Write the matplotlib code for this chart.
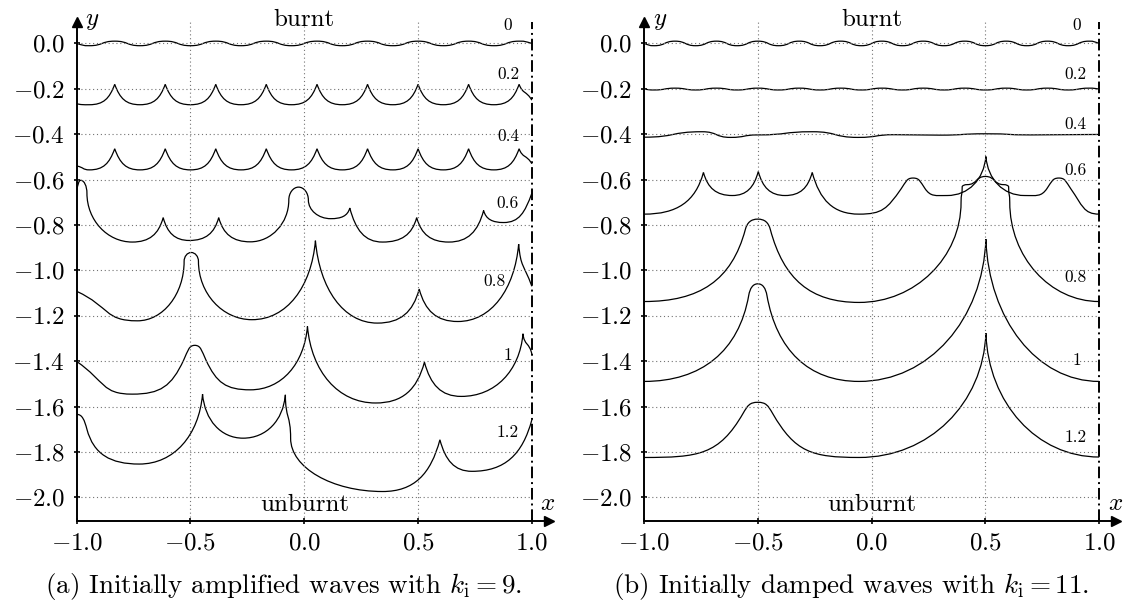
import numpy as np
import matplotlib
matplotlib.use("Agg")
import matplotlib.pyplot as plt
from matplotlib.path import Path
from matplotlib.patches import PathPatch

plt.rcParams['font.family'] = 'cmr10'
plt.rcParams['mathtext.fontset'] = 'cm'
plt.rcParams['axes.formatter.use_mathtext'] = True

# Axis ticks / labels
xticks = [-1.0, -0.5, 0.0, 0.5, 1.0]
xticklabels = ['$-1.0$', '$-0.5$', '$0.0$', '$0.5$', '$1.0$']
yticks = [0.0, -0.2, -0.4, -0.6, -0.8, -1.0, -1.2, -1.4, -1.6, -1.8, -2.0]
yticklabels = ['$0.0$', '$-0.2$', '$-0.4$', '$-0.6$', '$-0.8$', '$-1.0$',
               '$-1.2$', '$-1.4$', '$-1.6$', '$-1.8$', '$-2.0$']

# Flame fronts: node x, node y and tangent angle (deg)
# a tuple (in, out) marks a cusp where the curve changes direction
C70 = (70, -70)
C75 = (75, -75)
C85 = (85, -85)

# panel (a), k_i = 9
a00_x = [-1.0, -0.944, -0.833, -0.722, -0.611, -0.5, -0.389, -0.278, -0.167, -0.056,
         0.056, 0.167, 0.278, 0.389, 0.5, 0.611, 0.722, 0.833, 0.944, 1.0]
a00_y = [0.0, -0.010, 0.010, -0.010, 0.010, -0.010, 0.010, -0.010, 0.010, -0.010,
         0.010, -0.010, 0.010, -0.010, 0.010, -0.010, 0.010, -0.010, 0.010, 0.0]
a00_t = [-16, 0, 0, 0, 0, 0, 0, 0, 0, 0, 0, 0, 0, 0, 0, 0, 0, 0, 0, -16]

a02_x = a00_x
a02_y = [-0.266, -0.270, -0.180, -0.270, -0.180, -0.270, -0.180, -0.270, -0.180, -0.270,
         -0.180, -0.270, -0.180, -0.270, -0.180, -0.270, -0.180, -0.270, -0.180, -0.250]
a02_t = [-10, 0, C70, 0, C70, 0, C70, 0, C70, 0, C70, 0, C70, 0, C70, 0, C70, 0, C70, -60]

a04_x = a00_x
a04_y = [-0.540, -0.557, -0.464, -0.557, -0.464, -0.557, -0.464, -0.557, -0.464, -0.557,
         -0.464, -0.557, -0.464, -0.557, -0.464, -0.557, -0.464, -0.557, -0.464, -0.530]
a04_t = a02_t

a06_x = [-1.0, -0.982, -0.955, -0.756, -0.620, -0.505, -0.376, -0.237, -0.068, -0.025,
         0.018, 0.116, 0.200, 0.344, 0.494, 0.635, 0.788, 0.876, 1.0]
a06_y = [-0.645, -0.603, -0.660, -0.875, -0.767, -0.868, -0.767, -0.874, -0.690, -0.633,
         -0.690, -0.772, -0.725, -0.875, -0.767, -0.875, -0.736, -0.789, -0.660]
a06_t = [75, 0, 90, 0, C75, 0, C75, 0, 90, 0, 90, 0, C75, 0, C75, 0, C75, 0, 70]

a08_x = [-1.0, -0.733, -0.528, -0.497, -0.465, -0.230, 0.049, 0.321, 0.505, 0.675, 0.942, 1.0]
a08_y = [-1.092, -1.222, -0.960, -0.921, -0.960, -1.217, -0.869, -1.232, -1.082, -1.225,
         -0.884, -1.070]
a08_t = [-25, 0, 90, 0, 90, 0, C85, 0, C75, 0, C85, -70]

a10_x = [-1.0, -0.756, -0.530, -0.481, -0.432, -0.237, 0.014, 0.313, 0.528, 0.690, 0.961, 1.0]
a10_y = [-1.401, -1.545, -1.395, -1.330, -1.395, -1.526, -1.247, -1.584, -1.404, -1.555,
         -1.279, -1.370]
a10_t = [-35, 0, 65, 0, -65, 0, C85, 0, C75, 0, C85, -80]

a12_x = [-1.0, -0.955, -0.725, -0.447, -0.269, -0.083, -0.060, 0.344, 0.596, 0.737, 1.0]
a12_y = [-1.634, -1.700, -1.853, -1.545, -1.739, -1.548, -1.740, -1.974, -1.746, -1.885, -1.658]
a12_t = [0, -75, 0, C85, 0, (85, -90), 90, 0, C75, 0, 75]

# panel (b), k_i = 11
b00_x = [-1.0, -0.955, -0.864, -0.773, -0.682, -0.591, -0.5, -0.409, -0.318, -0.227, -0.136,
         -0.045, 0.045, 0.136, 0.227, 0.318, 0.409, 0.5, 0.591, 0.682, 0.773, 0.864, 0.955, 1.0]
b00_y = [0.0, -0.010, 0.010, -0.010, 0.010, -0.010, 0.010, -0.010, 0.010, -0.010, 0.010,
         -0.010, 0.010, -0.010, 0.010, -0.010, 0.010, -0.010, 0.010, -0.010, 0.010, -0.010,
         0.010, 0.0]
b00_t = [-18] + [0] * 22 + [-18]

b02_x = b00_x
b02_y = [-0.201, -0.205, -0.197, -0.205, -0.197, -0.205, -0.197, -0.205, -0.197, -0.205,
         -0.197, -0.205, -0.197, -0.205, -0.197, -0.205, -0.197, -0.205, -0.197, -0.205,
         -0.197, -0.205, -0.197, -0.201]
b02_t = [-8] + [0] * 22 + [-8]

b04_x = [-1.0, -0.745, -0.620, -0.500, -0.260, -0.060, 0.100, 0.300, 0.500, 0.700, 1.0]
b04_y = [-0.413, -0.389, -0.414, -0.403, -0.389, -0.414, -0.402, -0.404, -0.398, -0.403, -0.401]
b04_t = [0, 0, 0, 0, 0, 0, 0, 0, 0, 0, 0]

b06_x = [-1.0, -0.739, -0.612, -0.498, -0.380, -0.261, -0.055, 0.130, 0.182, 0.235, 0.332,
         0.502, 0.672, 0.770, 0.823, 0.875, 1.0]
b06_y = [-0.752, -0.568, -0.670, -0.564, -0.670, -0.568, -0.752, -0.640, -0.593, -0.640,
         -0.670, -0.498, -0.670, -0.640, -0.593, -0.640, -0.752]
b06_t = [0, C75, 0, C75, 0, C75, 0, 55, 0, -55, 0, C85, 0, 55, 0, -55, 0]

b08_x = [-1.0, -0.555, -0.500, -0.445, -0.055, 0.393, 0.398, 0.420, 0.500, 0.580, 0.602,
         0.607, 1.0]
b08_y = [-1.137, -0.820, -0.774, -0.820, -1.141, -0.700, -0.632, -0.622, -0.586, -0.622,
         -0.632, -0.700, -1.137]
b08_t = [0, 75, 0, -75, 0, 90, 90, 0, 0, 0, -90, -90, 0]

b10_x = [-1.0, -0.540, -0.500, -0.460, -0.055, 0.502, 1.0]
b10_y = [-1.489, -1.110, -1.059, -1.110, -1.489, -0.862, -1.489]
b10_t = [0, 80, 0, -80, 0, (88, -88), 0]

b12_x = [-1.0, -0.565, -0.500, -0.435, -0.055, 0.502, 1.0]
b12_y = [-1.824, -1.630, -1.581, -1.630, -1.824, -1.276, -1.822]
b12_t = [0, 60, 0, -60, 0, (88, -88), 0]

# time labels next to the fronts
a_lab = ['0', '0.2', '0.4', '0.6', '0.8', '1', '1.2']
a_lab_x = [0.895, 0.895, 0.895, 0.893, 0.838, 0.895, 0.895]
a_lab_y = [0.078, -0.134, -0.410, -0.703, -1.048, -1.372, -1.714]
b_lab = ['0', '0.2', '0.4', '0.6', '0.8', '1', '1.2']
b_lab_x = [0.902, 0.897, 0.897, 0.897, 0.897, 0.902, 0.897]
b_lab_y = [0.078, -0.134, -0.358, -0.557, -1.029, -1.394, -1.734]


def tangent(a, side):
    # side 0 = incoming, 1 = outgoing
    if isinstance(a, tuple):
        a = a[side]
    return np.array([np.cos(np.radians(a)), np.sin(np.radians(a))])


def front(xs, ys, angs, k=0.55):
    # smooth curve through the nodes with the given tangent directions
    verts = [(xs[0], ys[0])]
    codes = [Path.MOVETO]
    for i in range(len(xs) - 1):
        p0 = np.array([xs[i], ys[i]])
        p3 = np.array([xs[i + 1], ys[i + 1]])
        d = p3 - p0
        u0 = tangent(angs[i], 1)
        u1 = tangent(angs[i + 1], 0)
        p1 = p0 + k * np.dot(d, u0) * u0
        p2 = p3 - k * np.dot(d, u1) * u1
        verts += [tuple(p1), tuple(p2), tuple(p3)]
        codes += [Path.CURVE4] * 3
    return Path(verts, codes)


def setup(ax):
    ax.set_xlim(-1.0, 1.075)
    ax.set_ylim(-2.104, 0.093)
    for s in ['top', 'right']:
        ax.spines[s].set_visible(False)
    for s in ['left', 'bottom']:
        ax.spines[s].set_linewidth(1.4)
    ax.plot(1, 0, '>k', ms=7, transform=ax.transAxes, clip_on=False)
    ax.plot(0, 1, '^k', ms=7, transform=ax.transAxes, clip_on=False)
    ax.set_xticks(xticks)
    ax.set_xticklabels(xticklabels)
    ax.set_yticks(yticks)
    ax.set_yticklabels(yticklabels)
    ax.tick_params(direction='inout', length=5, width=1.2, labelsize=18, pad=6)
    ax.hlines(yticks, -1.0, 1.0, colors='0.45', linestyles=(0, (1, 2.5)), lw=0.8)
    ax.vlines([-0.5, 0.0, 0.5], -2.104, 0.093, colors='0.45', linestyles=(0, (1, 2.5)), lw=0.8)
    ax.vlines([1.0], -2.104, 0.093, colors='k', linestyles=(0, (6, 2, 1, 2)), lw=1.4)
    ax.text(0.0, 0.078, 'burnt', ha='center', va='baseline', fontsize=18)
    ax.text(0.0, -2.062, 'unburnt', ha='center', va='baseline', fontsize=18)
    ax.text(-0.93, 0.082, '$y$', ha='center', va='baseline', fontsize=18)
    ax.text(1.07, -2.03, '$x$', ha='center', va='center', fontsize=18, clip_on=False)


fig = plt.figure(figsize=(11.23, 6.05), dpi=100)
ax1 = fig.add_axes([0.0683, 0.1388, 0.4205, 0.8243])
ax2 = fig.add_axes([0.5735, 0.1388, 0.4205, 0.8243])
setup(ax1)
setup(ax2)

for xs, ys, ts in [(a00_x, a00_y, a00_t), (a02_x, a02_y, a02_t), (a04_x, a04_y, a04_t),
                   (a06_x, a06_y, a06_t), (a08_x, a08_y, a08_t), (a10_x, a10_y, a10_t),
                   (a12_x, a12_y, a12_t)]:
    ax1.add_patch(PathPatch(front(xs, ys, ts), fill=False, ec='k', lw=0.9))
for xs, ys, ts in [(b00_x, b00_y, b00_t), (b02_x, b02_y, b02_t), (b04_x, b04_y, b04_t),
                   (b06_x, b06_y, b06_t), (b08_x, b08_y, b08_t), (b10_x, b10_y, b10_t),
                   (b12_x, b12_y, b12_t)]:
    ax2.add_patch(PathPatch(front(xs, ys, ts), fill=False, ec='k', lw=0.9))

for lab, x, y in zip(a_lab, a_lab_x, a_lab_y):
    ax1.text(x, y, lab, ha='center', va='center', fontsize=12.5)
for lab, x, y in zip(b_lab, b_lab_x, b_lab_y):
    ax2.text(x, y, lab, ha='center', va='center', fontsize=12.5)

fig.text(0.252, 1 - 593 / 605, r'(a) Initially amplified waves with $k_{\mathrm{i}} = 9$.',
         ha='center', va='baseline', fontsize=19.5)
fig.text(0.758, 1 - 593 / 605, r'(b) Initially damped waves with $k_{\mathrm{i}} = 11$.',
         ha='center', va='baseline', fontsize=19.5)

fig.savefig('out.png', dpi=100)
